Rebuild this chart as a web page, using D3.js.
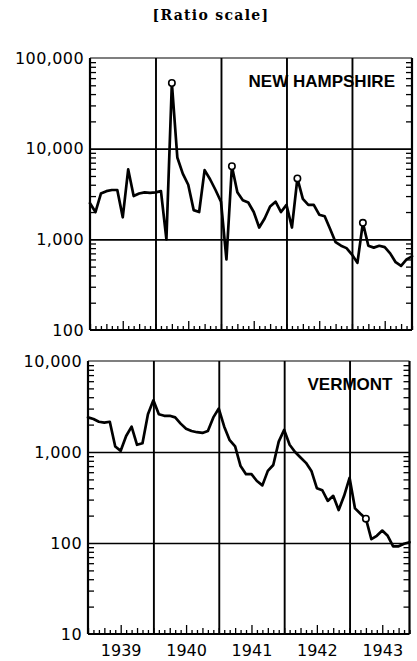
<!DOCTYPE html>
<html><head><meta charset="utf-8">
<script src="https://cdn.jsdelivr.net/npm/d3@7"></script>
<style>body{margin:0;background:#fff} svg{display:block}</style>
</head><body><svg id="c" width="417" height="661"></svg>
<script>
// ---- data ----
const years = ["1939", "1940", "1941", "1942", "1943"];
const nhValues = [2500, 2000, 3200, 3400, 3500, 3500, 1750, 5900, 3000, 3200, 3300, 3250,
                  3300, 3400, 1000, 53000, 8000, 5300, 4000, 2100, 2000, 5800, 4600, 3500,
                  2600, 600, 6400, 3300, 2700, 2550, 2000, 1350, 1700, 2300, 2600, 2000,
                  2400, 1350, 4700, 2800, 2400, 2400, 1870, 1800, 1300, 930, 850, 800,
                  680, 550, 1520, 850, 810, 850, 820, 700, 560, 510, 600, 650];
const vtValues = [2400, 2300, 2150, 2100, 2150, 1150, 1030, 1500, 1900, 1200, 1250, 2600,
                  3700, 2600, 2500, 2500, 2400, 2050, 1800, 1700, 1650, 1620, 1700, 2400,
                  3000, 1900, 1350, 1150, 700, 570, 570, 480, 430, 620, 720, 1300,
                  1750, 1200, 1000, 870, 760, 620, 400, 380, 290, 330, 230, 330,
                  520, 240, 210, 185, 110, 120, 137, 120, 92, 92, 98, 102];
const nhMarks = [15, 26, 38, 50];
const vtMarks = [51];
const nhTicks = [100, 1000, 10000, 100000];
const vtTicks = [10, 100, 1000, 10000];
const titleText = "[Ratio scale]";
const nhName = "NEW HAMPSHIRE";
const vtName = "VERMONT";

// ---- drawing ----
const svg = d3.select("#c");
svg.append("rect").attr("width", 417).attr("height", 661).attr("fill", "#fff");

svg.append("text").attr("x", 211).attr("y", 20).attr("text-anchor", "middle")
  .style("font-family", "DejaVu Serif").style("font-weight", "bold")
  .style("font-size", "14px").style("letter-spacing", "1.3px").text(titleText);

const panels = [
  {name: nhName, values: nhValues, marks: nhMarks, ticks: nhTicks, x0: 90, x1: 412, y0: 58, y1: 330, years: false},
  {name: vtName, values: vtValues, marks: vtMarks, ticks: vtTicks, x0: 88, x1: 409.5, y0: 361, y1: 634, years: true}
];

const monthIdx = d3.range(nhValues.length);

panels.forEach(p => {
  const x = d3.scaleLinear().domain([0, p.values.length - 1]).range([p.x0, p.x1]);
  const y = d3.scaleLog().domain([p.ticks[0], p.ticks[p.ticks.length - 1]]).range([p.y1, p.y0]);
  const W = p.x1 - p.x0, H = p.y1 - p.y0;
  const g = svg.append("g");

  // horizontal decade gridlines
  g.append("g").attr("transform", `translate(${p.x0},0)`)
    .call(d3.axisLeft(y).tickValues(p.ticks.slice(1, -1)).tickSize(-W).tickFormat(""))
    .call(a => a.select(".domain").remove())
    .selectAll("line").attr("stroke", "#000").attr("stroke-width", 1.6);

  // year gridlines
  g.append("g").attr("transform", `translate(0,${p.y1})`)
    .call(d3.axisBottom(x).tickValues([12, 24, 36, 48]).tickSize(-H).tickFormat(""))
    .call(a => a.select(".domain").remove())
    .selectAll("line").attr("stroke", "#000").attr("stroke-width", 1.9);

  // minor ticks left & right (inside)
  const minor = y.ticks().filter(v => Math.abs(Math.log10(v) - Math.round(Math.log10(v))) > 1e-6);
  g.append("g").attr("transform", `translate(${p.x0},0)`)
    .call(d3.axisLeft(y).tickValues(minor).tickSize(-6).tickFormat(""))
    .call(a => a.select(".domain").remove())
    .selectAll("line").attr("stroke", "#000").attr("stroke-width", 1.3);
  g.append("g").attr("transform", `translate(${p.x1},0)`)
    .call(d3.axisRight(y).tickValues(minor).tickSize(-6).tickFormat(""))
    .call(a => a.select(".domain").remove())
    .selectAll("line").attr("stroke", "#000").attr("stroke-width", 1.3);

  // month ticks along the bottom (inside)
  g.append("g").attr("transform", `translate(0,${p.y1})`)
    .call(d3.axisBottom(x).tickValues(monthIdx).tickSize(-4).tickFormat(""))
    .call(a => a.select(".domain").remove())
    .selectAll("line")
    .attr("y2", d => d % 12 === 6 ? -9 : (d % 3 === 0 ? -6 : -4))
    .attr("stroke", "#000").attr("stroke-width", 1.3);

  // frame
  g.append("line").attr("x1", p.x0).attr("x2", p.x1).attr("y1", p.y0).attr("y2", p.y0)
    .attr("stroke", "#000").attr("stroke-width", 1.2);
  g.append("line").attr("x1", p.x0).attr("x2", p.x1).attr("y1", p.y1).attr("y2", p.y1)
    .attr("stroke", "#000").attr("stroke-width", 2.2);
  g.append("line").attr("x1", p.x0).attr("x2", p.x0).attr("y1", p.y0).attr("y2", p.y1)
    .attr("stroke", "#000").attr("stroke-width", 2.2);
  g.append("line").attr("x1", p.x1).attr("x2", p.x1).attr("y1", p.y0).attr("y2", p.y1)
    .attr("stroke", "#000").attr("stroke-width", 2.2);

  // y labels
  g.append("g").attr("transform", `translate(${p.x0 - 1},0)`)
    .call(d3.axisLeft(y).tickValues(p.ticks).tickSize(0).tickPadding(5).tickFormat(d3.format(",")))
    .call(a => a.select(".domain").remove())
    .selectAll("text").attr("fill", "#000")
    .style("font-family", "DejaVu Sans").style("font-size", "16px").style("letter-spacing", "0.4px");

  // year labels
  if (p.years) {
    g.append("g").attr("transform", `translate(0,${p.y1 + 7})`)
      .call(d3.axisBottom(x).tickValues([6, 18, 30, 42, 54]).tickSize(0).tickPadding(4)
        .tickFormat((d, i) => years[i]))
      .call(a => a.select(".domain").remove())
      .selectAll("text").attr("fill", "#000")
      .style("font-family", "DejaVu Sans").style("font-size", "16px");
  }

  // series line
  const line = d3.line().x((d, i) => x(i)).y(d => y(d));
  g.append("path").datum(p.values).attr("d", line).attr("fill", "none")
    .attr("stroke", "#000").attr("stroke-width", 2.7)
    .attr("stroke-linejoin", "round").attr("stroke-linecap", "round");

  // circled points
  g.selectAll("circle.m").data(p.marks).enter().append("circle")
    .attr("cx", i => x(i)).attr("cy", i => y(p.values[i])).attr("r", 3.2)
    .attr("fill", "#fff").attr("stroke", "#000").attr("stroke-width", 1.6);

  // panel name
  g.append("text").attr("x", p.x1 - 17).attr("y", p.y0 + 29).attr("text-anchor", "end")
    .style("font-family", "Liberation Sans").style("font-weight", "bold").style("font-size", "17px")
    .text(p.name);
});
</script></body></html>
